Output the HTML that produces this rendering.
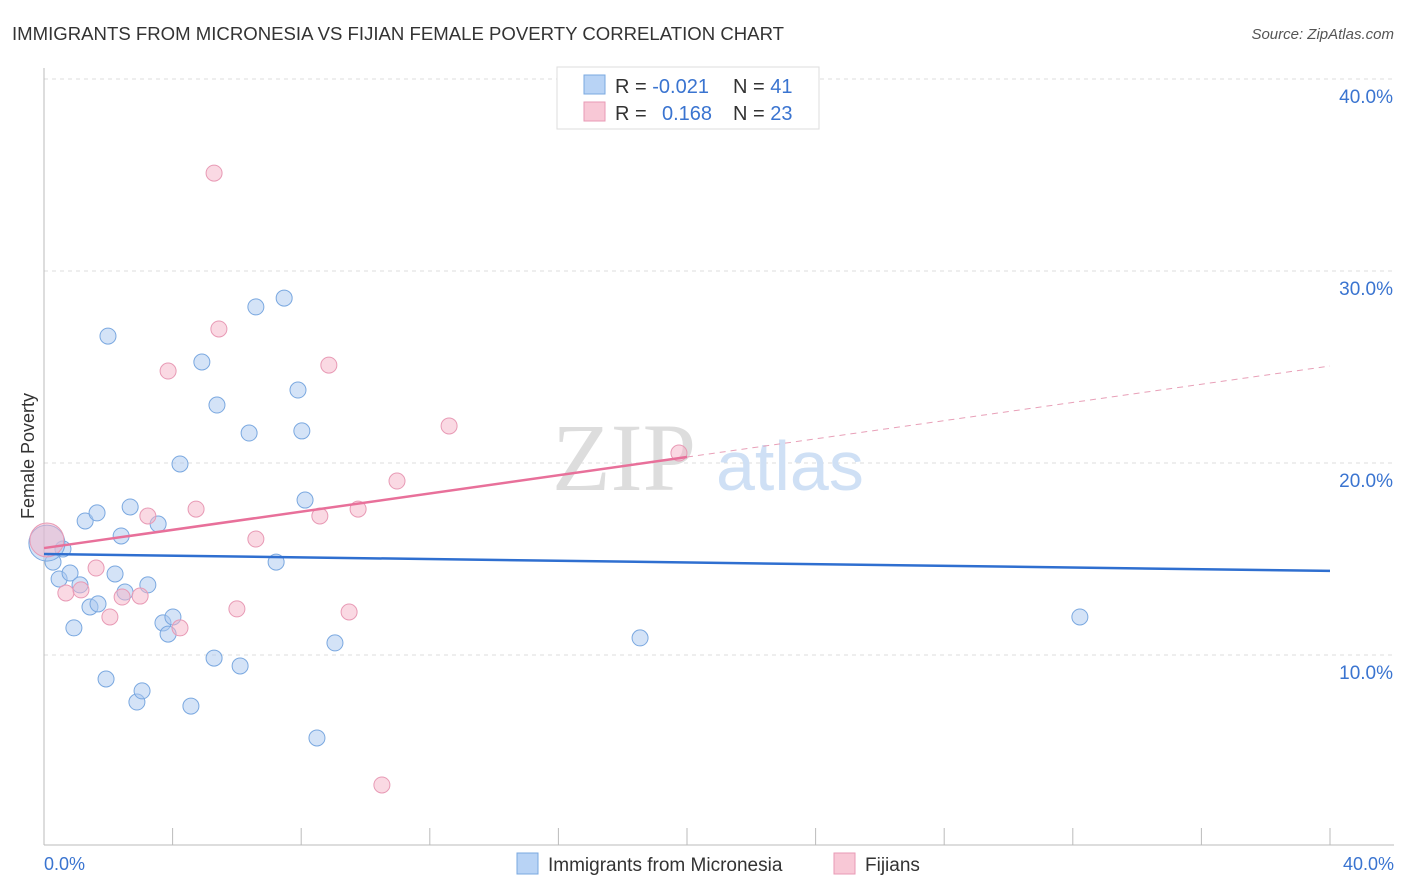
<!DOCTYPE html>
<html><head><meta charset="utf-8"><style>
body{margin:0;background:#fff;font-family:"Liberation Sans",sans-serif;}
svg{display:block}
</style></head><body>
<svg id="c" width="1406" height="892" xmlns="http://www.w3.org/2000/svg">
<text x="12" y="40" font-size="18" fill="#333" textLength="772" lengthAdjust="spacingAndGlyphs">IMMIGRANTS FROM MICRONESIA VS FIJIAN FEMALE POVERTY CORRELATION CHART</text>
<text x="1394" y="39" font-size="15" fill="#555" font-style="italic" text-anchor="end">Source: ZipAtlas.com</text>
<text transform="translate(34,456) rotate(-90)" font-size="18" fill="#333" text-anchor="middle">Female Poverty</text>
<g id="grid"></g>
<g><text x="552" y="490" font-size="96" font-family="Liberation Serif,serif" fill="#ddd">ZIP</text><text x="716" y="490" font-size="70" fill="#cfe0f5">atlas</text></g>
<g id="marks"></g>
<g>
<rect x="557" y="67" width="262" height="62" fill="#fff" stroke="#ddd"/>
<rect x="584" y="75" width="21" height="19" fill="#b8d3f5" stroke="#7aa8e0"/>
<rect x="584" y="102" width="21" height="19" fill="#f8c8d6" stroke="#e89ab5"/>
<text x="615" y="93" font-size="20" fill="#333">R = <tspan fill="#3a74d0">-0.021</tspan><tspan x="733">N = </tspan><tspan fill="#3a74d0">41</tspan></text>
<text x="615" y="120" font-size="20" fill="#333">R = <tspan x="662" fill="#3a74d0">0.168</tspan><tspan x="733">N = </tspan><tspan fill="#3a74d0">23</tspan></text>
</g>
<g>
<rect x="517" y="853" width="21" height="21" fill="#b8d3f5" stroke="#7aa8e0"/>
<text x="548" y="871" font-size="19" fill="#333">Immigrants from Micronesia</text>
<rect x="834" y="853" width="21" height="21" fill="#f8c8d6" stroke="#e89ab5"/>
<text x="865" y="871" font-size="19" fill="#333">Fijians</text>
</g>
<text x="44" y="870" font-size="18" fill="#3a74d0">0.0%</text>
<text x="1394" y="870" font-size="18" fill="#3a74d0" text-anchor="end">40.0%</text>
</svg>
<script>
const yTicks=[10,20,30,40];
const yTickLabels=["10.0%","20.0%","30.0%","40.0%"];
const blueX=[0.28,0.59,0.47,0.81,1.12,0.93,1.28,1.65,1.43,1.68,1.93,1.99,2.21,2.40,2.52,2.68,2.89,3.05,3.23,3.55,3.70,3.86,4.01,4.23,4.57,4.91,5.29,5.38,6.10,6.38,6.59,7.22,7.47,7.90,8.02,8.12,8.49,9.05,18.54,32.22];
const blueY=[14.84,15.52,13.96,14.27,13.65,11.41,16.98,17.40,12.50,12.66,8.75,26.61,14.22,16.20,13.28,17.71,7.55,8.13,13.65,16.82,11.67,11.09,11.98,19.95,7.34,25.26,9.84,23.02,9.43,21.56,28.13,14.84,28.59,23.80,21.67,18.07,5.68,10.63,10.89,11.98];
const pinkX=[0.68,1.15,1.62,2.05,2.43,2.99,3.23,3.86,4.23,4.73,5.29,5.44,6.00,6.59,8.58,8.86,9.49,9.77,10.51,10.98,12.60,19.75];
const pinkY=[13.23,13.39,14.53,11.98,13.02,13.07,17.24,24.79,11.41,17.60,35.10,26.98,12.40,16.04,17.24,25.10,12.24,17.60,3.23,19.06,21.93,20.52];
const bigX=[0.09,0.09], bigY=[15.83,15.99];
const blueTrend=[15.26,14.38];
const pinkTrend=[15.57,25.05];
const pinkSolidEnd=20;
const X=v=>44+v*32.15, Y=v=>847-v*19.2;
const NS="http://www.w3.org/2000/svg";
const g=document.getElementById('grid'), m=document.getElementById('marks');
function el(t,a,p){const e=document.createElementNS(NS,t);for(const k in a)e.setAttribute(k,a[k]);p.appendChild(e);return e;}
yTicks.forEach((t,i)=>{
 const l=el('line',{x1:44,x2:1394,y1:Y(t),y2:Y(t),stroke:'#ddd','stroke-dasharray':'4,4'},g);
 
 
 const tx=el('text',{x:1393,y:Y(t)+24,'font-size':19,fill:'#3a74d0','text-anchor':'end'},g);tx.textContent=yTickLabels[i];
 
 
});
const ax=el('line',{x1:44,x2:44,y1:68,y2:845,stroke:'#bbb'},g);


const bx=el('line',{x1:44,x2:1394,y1:845,y2:845,stroke:'#bbb'},g);


for(let i=0;i<=40;i+=4){const t=el('line',{x1:X(i),x2:X(i),y1:828,y2:845,stroke:'#bbb'},g);
 
 }
function dot(x,y,r,f,s,n){const c=el('circle',{cx:X(x),cy:Y(y),r:r,fill:f,stroke:s,'stroke-width':1},m);
 
 }
blueX.forEach((x,i)=>dot(x,blueY[i],8,'rgba(170,200,240,0.5)','#7aa8e0','micronesia-point'));
pinkX.forEach((x,i)=>dot(x,pinkY[i],8,'rgba(245,180,200,0.5)','#e89ab5','fijian-point'));
dot(bigX[0],bigY[0],18,'rgba(170,200,240,0.5)','#7aa8e0','micronesia-point-large');
dot(bigX[1],bigY[1],17,'rgba(245,180,200,0.5)','#e89ab5','fijian-point-large');
const bl=el('line',{x1:X(0),x2:X(40),y1:Y(blueTrend[0]),y2:Y(blueTrend[1]),stroke:'#2f6fd0','stroke-width':2.5},m);


const py=x=>pinkTrend[0]+(pinkTrend[1]-pinkTrend[0])*x/40;
const pl=el('line',{x1:X(0),x2:X(pinkSolidEnd),y1:Y(py(0)),y2:Y(py(pinkSolidEnd)),stroke:'#e8709a','stroke-width':2.5},m);


const pd=el('line',{x1:X(pinkSolidEnd),x2:X(40),y1:Y(py(pinkSolidEnd)),y2:Y(py(40)),stroke:'#e8a0b8','stroke-width':1,'stroke-dasharray':'6,5'},m);


</script>
</body></html>
